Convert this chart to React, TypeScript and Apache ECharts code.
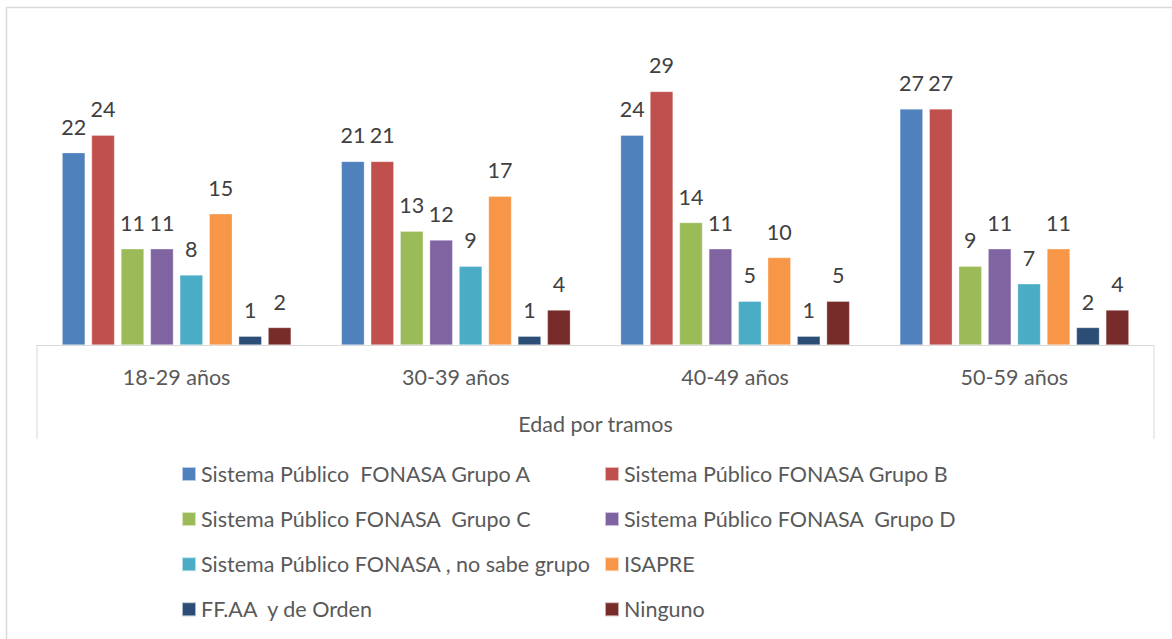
import React, { useEffect, useRef } from "react";
import * as echarts from "echarts";

const categories = ["18-29 años", "30-39 años", "40-49 años", "50-59 años"];
const seriesNames = [
  "Sistema Público  FONASA Grupo A",
  "Sistema Público FONASA Grupo B",
  "Sistema Público FONASA  Grupo C",
  "Sistema Público FONASA  Grupo D",
  "Sistema Público FONASA , no sabe grupo",
  "ISAPRE",
  "FF.AA  y de Orden",
  "Ninguno",
];
const grupoA = [22, 21, 24, 27];
const grupoB = [24, 21, 29, 27];
const grupoC = [11, 13, 14, 9];
const grupoD = [11, 12, 11, 11];
const noSabe = [8, 9, 5, 7];
const isapre = [15, 17, 10, 11];
const ffaa = [1, 1, 1, 2];
const ninguno = [2, 4, 5, 4];
const seriesValues = [grupoA, grupoB, grupoC, grupoD, noSabe, isapre, ffaa, ninguno];
const colors = ["#4F81BD", "#C0504D", "#9BBB59", "#8064A2", "#4BACC6", "#F79646", "#2C4D75", "#772C2A"];
const axisName = "Edad por tramos";

const FONT = "Lato, 'Noto Sans', sans-serif";
const FS = 21.5;

export default function App() {
  const ref = useRef<HTMLDivElement>(null);
  useEffect(() => {
    if (!ref.current) return;
    const chart = echarts.init(ref.current, null, { renderer: "svg" });
    const legendText = { fontFamily: FONT, fontSize: FS, color: "#595959", lineHeight: 20 };
    chart.setOption({
      animation: false,
      backgroundColor: "#ffffff",
      textStyle: { fontFamily: FONT },
      grid: { left: 37, right: 18, top: 39, bottom: 294, containLabel: false },
      xAxis: {
        type: "category",
        data: categories,
        axisLine: { show: true, lineStyle: { color: "#d9d9d9", width: 1 } },
        axisTick: { show: false },
        axisLabel: { fontFamily: FONT, fontSize: FS, color: "#595959", margin: 21 },
        name: axisName,
        nameLocation: "middle",
        nameGap: 68,
        nameTextStyle: { fontFamily: FONT, fontSize: FS, color: "#595959" },
      },
      yAxis: {
        type: "value",
        min: 0,
        max: 35,
        show: false,
        splitLine: { show: false },
      },
      legend: [
        {
          orient: "vertical",
          left: 181,
          top: 463,
          padding: 0,
          itemWidth: 14,
          itemHeight: 14,
          itemGap: 23.1,
          icon: "rect",
          textStyle: legendText,
          data: [seriesNames[0], seriesNames[2], seriesNames[4], seriesNames[6]],
        },
        {
          orient: "vertical",
          left: 604,
          top: 463,
          padding: 0,
          itemWidth: 14,
          itemHeight: 14,
          itemGap: 23.1,
          icon: "rect",
          textStyle: legendText,
          data: [seriesNames[1], seriesNames[3], seriesNames[5], seriesNames[7]],
        },
      ],
      graphic: [
        { type: "line", shape: { x1: 6.5, y1: 7, x2: 6.5, y2: 639 }, style: { stroke: "#d9d9d9", lineWidth: 1.5 } },
        { type: "line", shape: { x1: 6, y1: 7.5, x2: 1172, y2: 7.5 }, style: { stroke: "#d9d9d9", lineWidth: 1.5 } },
        { type: "line", shape: { x1: 37, y1: 345, x2: 37, y2: 439 }, style: { stroke: "#d9d9d9", lineWidth: 1 } },
        { type: "line", shape: { x1: 1154, y1: 345, x2: 1154, y2: 439 }, style: { stroke: "#d9d9d9", lineWidth: 1 } },
      ],
      series: seriesNames.map((name, i) => ({
        name,
        type: "bar",
        data: seriesValues[i],
        barGap: "28%",
        barCategoryGap: "18%",
        itemStyle: { color: colors[i], borderColor: "rgba(255,255,255,0.6)", borderWidth: 0.5 },
        label: {
          show: true,
          position: "top",
          distance: 15,
          fontFamily: FONT,
          fontSize: FS,
          color: "#404040",
        },
      })),
    });
    return () => chart.dispose();
  }, []);
  return (
    <div
      ref={ref}
      style={{ position: "fixed", left: 0, top: 0, width: 1172, height: 639, background: "#fff" }}
    />
  );
}
